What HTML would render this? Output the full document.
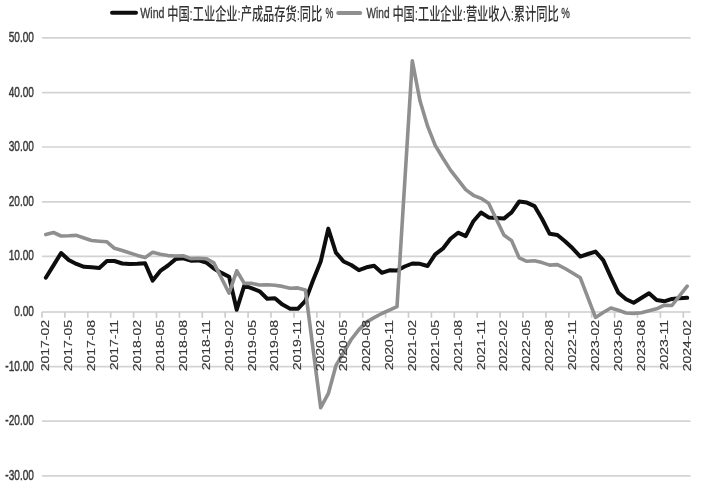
<!DOCTYPE html>
<html><head><meta charset="utf-8"><style>
html,body{margin:0;padding:0;background:#fff;}
svg{display:block;}
.grid{stroke:#d3d3d3;stroke-width:1.7;}
.axis{stroke:#cdcdcd;stroke-width:1.7;}
.yl{font-family:"Liberation Sans","Noto Sans CJK SC",sans-serif;font-size:15.5px;fill:#3a3a3a;stroke:#3a3a3a;stroke-width:0.5px;text-anchor:end;}
.xl{font-family:"Liberation Sans","Noto Sans CJK SC",sans-serif;font-size:14px;fill:#363636;stroke:#363636;stroke-width:0.2px;text-anchor:end;}
.lg{font-family:"Liberation Sans","Noto Sans CJK SC",sans-serif;font-size:17px;font-weight:500;fill:#333333;}
.lgl{font-family:"Liberation Sans",sans-serif;font-size:13.8px;fill:#3c3c3c;stroke:#3c3c3c;stroke-width:0.35px;}
</style></head><body>
<svg width="703" height="488" viewBox="0 0 703 488">
<rect width="703" height="488" fill="#fff"/>
<line x1="42" y1="37.9" x2="690.5" y2="37.9" class="grid"/><line x1="42" y1="92.6" x2="690.5" y2="92.6" class="grid"/><line x1="42" y1="147.0" x2="690.5" y2="147.0" class="grid"/><line x1="42" y1="201.8" x2="690.5" y2="201.8" class="grid"/><line x1="42" y1="256.4" x2="690.5" y2="256.4" class="grid"/><line x1="42" y1="366.6" x2="690.5" y2="366.6" class="grid"/><line x1="42" y1="421.1" x2="690.5" y2="421.1" class="grid"/><line x1="42" y1="475.8" x2="690.5" y2="475.8" class="grid"/><line x1="42" y1="312.0" x2="690.5" y2="312.0" class="axis"/><line x1="42.0" y1="312.0" x2="42.0" y2="317.8" class="axis"/><line x1="64.9" y1="312.0" x2="64.9" y2="317.8" class="axis"/><line x1="87.8" y1="312.0" x2="87.8" y2="317.8" class="axis"/><line x1="110.7" y1="312.0" x2="110.7" y2="317.8" class="axis"/><line x1="133.6" y1="312.0" x2="133.6" y2="317.8" class="axis"/><line x1="156.5" y1="312.0" x2="156.5" y2="317.8" class="axis"/><line x1="179.4" y1="312.0" x2="179.4" y2="317.8" class="axis"/><line x1="202.3" y1="312.0" x2="202.3" y2="317.8" class="axis"/><line x1="225.2" y1="312.0" x2="225.2" y2="317.8" class="axis"/><line x1="248.1" y1="312.0" x2="248.1" y2="317.8" class="axis"/><line x1="271.0" y1="312.0" x2="271.0" y2="317.8" class="axis"/><line x1="294.0" y1="312.0" x2="294.0" y2="317.8" class="axis"/><line x1="316.9" y1="312.0" x2="316.9" y2="317.8" class="axis"/><line x1="339.8" y1="312.0" x2="339.8" y2="317.8" class="axis"/><line x1="362.7" y1="312.0" x2="362.7" y2="317.8" class="axis"/><line x1="385.6" y1="312.0" x2="385.6" y2="317.8" class="axis"/><line x1="408.5" y1="312.0" x2="408.5" y2="317.8" class="axis"/><line x1="431.4" y1="312.0" x2="431.4" y2="317.8" class="axis"/><line x1="454.3" y1="312.0" x2="454.3" y2="317.8" class="axis"/><line x1="477.2" y1="312.0" x2="477.2" y2="317.8" class="axis"/><line x1="500.1" y1="312.0" x2="500.1" y2="317.8" class="axis"/><line x1="523.0" y1="312.0" x2="523.0" y2="317.8" class="axis"/><line x1="545.9" y1="312.0" x2="545.9" y2="317.8" class="axis"/><line x1="568.8" y1="312.0" x2="568.8" y2="317.8" class="axis"/><line x1="591.7" y1="312.0" x2="591.7" y2="317.8" class="axis"/><line x1="614.6" y1="312.0" x2="614.6" y2="317.8" class="axis"/><line x1="637.5" y1="312.0" x2="637.5" y2="317.8" class="axis"/><line x1="660.4" y1="312.0" x2="660.4" y2="317.8" class="axis"/><line x1="683.3" y1="312.0" x2="683.3" y2="317.8" class="axis"/>
<polyline points="45.8,277.7 53.5,265.4 61.1,253.0 68.7,259.9 76.4,263.9 84.0,266.8 91.6,267.3 99.3,267.9 106.9,261.0 114.5,261.0 122.2,263.5 129.8,264.0 137.4,263.8 145.1,263.3 152.7,280.6 160.3,270.9 168.0,265.5 175.6,259.1 183.2,258.3 190.9,260.7 198.5,260.4 206.2,262.5 213.8,268.5 221.4,272.9 229.1,276.8 236.7,309.7 244.3,285.5 252.0,288.4 259.6,291.3 267.2,298.7 274.9,298.2 282.5,304.6 290.1,308.7 297.8,308.8 305.4,300.8 313.0,280.5 320.7,261.6 328.3,228.6 335.9,252.6 343.6,261.5 351.2,265.0 358.9,270.2 366.5,267.3 374.1,265.8 381.8,272.8 389.4,270.3 397.0,270.6 404.7,266.5 412.3,263.5 419.9,263.8 427.6,266.0 435.2,254.3 442.8,248.7 450.5,238.7 458.1,232.7 465.7,236.1 473.4,221.2 481.0,212.5 488.6,217.4 496.3,218.0 503.9,218.6 511.6,212.4 519.2,201.5 526.8,202.6 534.5,206.1 542.1,219.0 549.7,233.8 557.4,235.0 565.0,241.2 572.6,248.3 580.3,256.6 587.9,254.0 595.5,251.6 603.2,260.2 610.8,276.9 618.4,292.8 626.1,299.3 633.7,302.8 641.3,298.0 649.0,293.2 656.6,300.0 664.3,301.3 671.9,298.9 679.5,298.2 687.2,297.8" fill="none" stroke="#0d0d0d" stroke-width="4.0" stroke-linejoin="round" stroke-linecap="round"/>
<polyline points="45.8,234.6 53.5,232.5 61.1,236.0 68.7,235.8 76.4,235.4 84.0,238.0 91.6,240.5 99.3,241.2 106.9,241.8 114.5,248.3 122.2,250.5 137.4,255.4 145.1,257.6 152.7,252.2 160.3,254.2 168.0,255.6 175.6,256.0 183.2,255.8 190.9,258.6 198.5,258.3 206.2,258.7 213.8,262.9 229.1,293.2 236.7,270.8 244.3,283.4 252.0,283.4 259.6,285.0 267.2,284.7 274.9,285.2 282.5,286.4 290.1,288.3 297.8,287.9 305.4,290.0 320.7,407.7 328.3,393.7 335.9,365.7 343.6,352.5 351.2,339.5 358.9,329.6 366.5,322.1 374.1,317.6 381.8,313.5 389.4,310.1 397.0,306.6 412.3,60.8 419.9,100.5 427.6,126.2 435.2,145.3 442.8,158.0 450.5,170.1 458.1,179.9 465.7,189.6 473.4,195.3 481.0,198.3 488.6,203.2 503.9,235.0 511.6,240.6 519.2,257.9 526.8,261.3 534.5,260.8 542.1,262.6 549.7,265.1 557.4,264.6 565.0,268.5 572.6,273.0 580.3,277.8 595.5,317.4 603.2,312.5 610.8,308.0 618.4,310.3 626.1,313.0 633.7,313.4 641.3,312.8 649.0,310.8 656.6,308.8 664.3,305.2 671.9,305.5 687.2,286.1" fill="none" stroke="#8f8f8f" stroke-width="3.6" stroke-linejoin="round" stroke-linecap="round"/>
<text x="0" y="0" transform="translate(33.9 41.9) scale(0.65 1)" class="yl">50.00</text><text x="0" y="0" transform="translate(33.9 96.6) scale(0.65 1)" class="yl">40.00</text><text x="0" y="0" transform="translate(33.9 151.0) scale(0.65 1)" class="yl">30.00</text><text x="0" y="0" transform="translate(33.9 205.8) scale(0.65 1)" class="yl">20.00</text><text x="0" y="0" transform="translate(33.9 260.4) scale(0.65 1)" class="yl">10.00</text><text x="0" y="0" transform="translate(33.9 316.1) scale(0.65 1)" class="yl">0.00</text><text x="0" y="0" transform="translate(33.9 370.6) scale(0.65 1)" class="yl">-10.00</text><text x="0" y="0" transform="translate(33.9 425.1) scale(0.65 1)" class="yl">-20.00</text><text x="0" y="0" transform="translate(33.9 479.8) scale(0.65 1)" class="yl">-30.00</text>
<text x="0" y="0" transform="translate(49.3 320.0) rotate(-90) scale(1 0.72)" class="xl">2017-02</text><text x="0" y="0" transform="translate(72.2 320.0) rotate(-90) scale(1 0.72)" class="xl">2017-05</text><text x="0" y="0" transform="translate(95.1 320.0) rotate(-90) scale(1 0.72)" class="xl">2017-08</text><text x="0" y="0" transform="translate(118.0 320.0) rotate(-90) scale(1 0.72)" class="xl">2017-11</text><text x="0" y="0" transform="translate(140.9 320.0) rotate(-90) scale(1 0.72)" class="xl">2018-02</text><text x="0" y="0" transform="translate(163.8 320.0) rotate(-90) scale(1 0.72)" class="xl">2018-05</text><text x="0" y="0" transform="translate(186.7 320.0) rotate(-90) scale(1 0.72)" class="xl">2018-08</text><text x="0" y="0" transform="translate(209.7 320.0) rotate(-90) scale(1 0.72)" class="xl">2018-11</text><text x="0" y="0" transform="translate(232.6 320.0) rotate(-90) scale(1 0.72)" class="xl">2019-02</text><text x="0" y="0" transform="translate(255.5 320.0) rotate(-90) scale(1 0.72)" class="xl">2019-05</text><text x="0" y="0" transform="translate(278.4 320.0) rotate(-90) scale(1 0.72)" class="xl">2019-08</text><text x="0" y="0" transform="translate(301.3 320.0) rotate(-90) scale(1 0.72)" class="xl">2019-11</text><text x="0" y="0" transform="translate(324.2 320.0) rotate(-90) scale(1 0.72)" class="xl">2020-02</text><text x="0" y="0" transform="translate(347.1 320.0) rotate(-90) scale(1 0.72)" class="xl">2020-05</text><text x="0" y="0" transform="translate(370.0 320.0) rotate(-90) scale(1 0.72)" class="xl">2020-08</text><text x="0" y="0" transform="translate(392.9 320.0) rotate(-90) scale(1 0.72)" class="xl">2020-11</text><text x="0" y="0" transform="translate(415.8 320.0) rotate(-90) scale(1 0.72)" class="xl">2021-02</text><text x="0" y="0" transform="translate(438.7 320.0) rotate(-90) scale(1 0.72)" class="xl">2021-05</text><text x="0" y="0" transform="translate(461.6 320.0) rotate(-90) scale(1 0.72)" class="xl">2021-08</text><text x="0" y="0" transform="translate(484.5 320.0) rotate(-90) scale(1 0.72)" class="xl">2021-11</text><text x="0" y="0" transform="translate(507.4 320.0) rotate(-90) scale(1 0.72)" class="xl">2022-02</text><text x="0" y="0" transform="translate(530.3 320.0) rotate(-90) scale(1 0.72)" class="xl">2022-05</text><text x="0" y="0" transform="translate(553.2 320.0) rotate(-90) scale(1 0.72)" class="xl">2022-08</text><text x="0" y="0" transform="translate(576.1 320.0) rotate(-90) scale(1 0.72)" class="xl">2022-11</text><text x="0" y="0" transform="translate(599.0 320.0) rotate(-90) scale(1 0.72)" class="xl">2023-02</text><text x="0" y="0" transform="translate(621.9 320.0) rotate(-90) scale(1 0.72)" class="xl">2023-05</text><text x="0" y="0" transform="translate(644.8 320.0) rotate(-90) scale(1 0.72)" class="xl">2023-08</text><text x="0" y="0" transform="translate(667.8 320.0) rotate(-90) scale(1 0.72)" class="xl">2023-11</text><text x="0" y="0" transform="translate(690.7 320.0) rotate(-90) scale(1 0.72)" class="xl">2024-02</text>
<line x1="112" y1="12.8" x2="136" y2="12.8" stroke="#0d0d0d" stroke-width="4" stroke-linecap="round"/>
<line x1="338.2" y1="13" x2="360.2" y2="13" stroke="#8f8f8f" stroke-width="4" stroke-linecap="round"/>
<text class="lgl" transform="translate(140.3 17.6) scale(0.77 1)">Wind</text>
<text class="lg" transform="translate(167.2 19.5) scale(0.66 1)">中国:工业企业:产成品存货:同比</text>
<text class="lgl" transform="translate(325.5 17.6) scale(0.64 1)">%</text>
<text class="lgl" transform="translate(366.6 17.6) scale(0.73 1)">Wind</text>
<text class="lg" transform="translate(392.4 19.5) scale(0.66 1)">中国:工业企业:营业收入:累计同比</text>
<text class="lgl" transform="translate(561.2 17.6) scale(0.7 1)">%</text>
</svg>
</body></html>
